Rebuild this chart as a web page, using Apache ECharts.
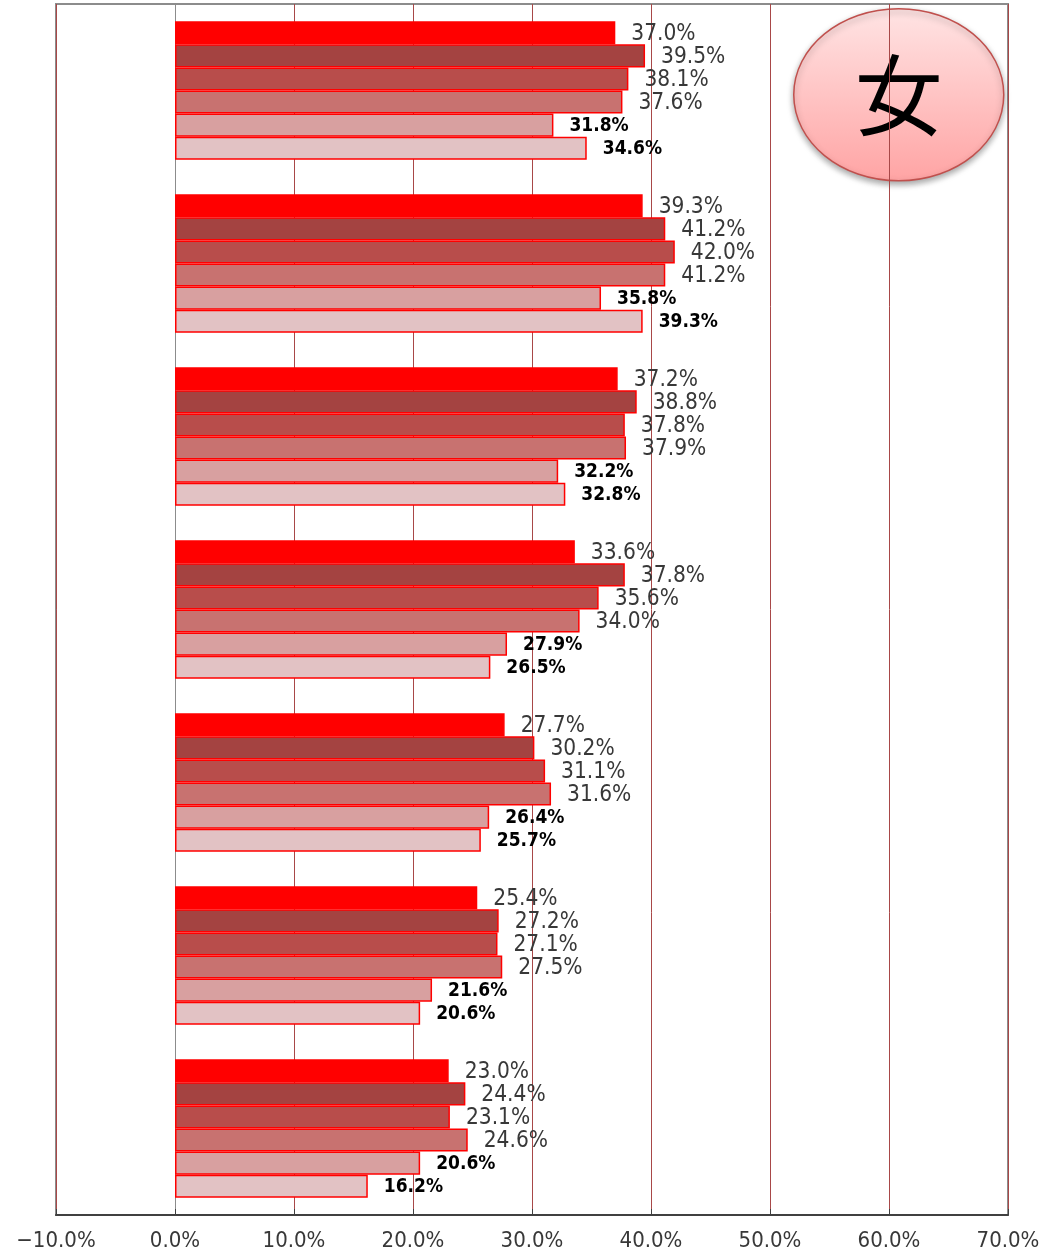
<!DOCTYPE html>
<html><head><meta charset="utf-8">
<script src="https://cdn.jsdelivr.net/npm/echarts@6/dist/echarts.min.js"></script>
<style>html,body{margin:0;padding:0;background:#fff}#c{width:1050px;height:1255px}</style>
</head><body><div id="c"></div>
<script>
const categories = ['1', '2', '3', '4', '5', '6', '7'];
const seriesNames = ['S1', 'S2', 'S3', 'S4', 'S5', 'S6'];
const s1 = [37.0, 39.3, 37.2, 33.6, 27.7, 25.4, 23.0];
const s2 = [39.5, 41.2, 38.8, 37.8, 30.2, 27.2, 24.4];
const s3 = [38.1, 42.0, 37.8, 35.6, 31.1, 27.1, 23.1];
const s4 = [37.6, 41.2, 37.9, 34.0, 31.6, 27.5, 24.6];
const s5 = [31.8, 35.8, 32.2, 27.9, 26.4, 21.6, 20.6];
const s6 = [34.6, 39.3, 32.8, 26.5, 25.7, 20.6, 16.2];
const xTicks = [-10, 0, 10, 20, 30, 40, 50, 60, 70];
const badgeText = '女';

const seriesData = [s1, s2, s3, s4, s5, s6];
const colors = ['#FF0000', '#A44341', '#B84D4B', '#C87270', '#D8A0A0', '#E2C2C4'];
const narrow = "'DejaVu Sans Condensed', 'Liberation Sans', sans-serif";

const chart = echarts.init(document.getElementById('c'));
chart.setOption({
  animation: false,
  grid: { left: 56, right: 42, top: 4, bottom: 40, show: true, borderColor: '#8C8C8C', borderWidth: 2, backgroundColor: 'transparent' },
  xAxis: {
    type: 'value', min: xTicks[0], max: xTicks[xTicks.length - 1], interval: 10,
    axisLine: { show: true, lineStyle: { color: '#404040', width: 2 } },
    axisTick: { show: true, inside: true, length: 6, lineStyle: { color: '#404040' } },
    splitLine: { show: true, lineStyle: { color: '#A84848', width: 1 } },
    axisLabel: { formatter: v => (v < 0 ? '\u2212' + Math.abs(v).toFixed(1) : v.toFixed(1)) + '%', fontFamily: narrow, fontSize: 22, color: '#383838', margin: 15 }
  },
  yAxis: {
    type: 'category', data: categories, inverse: true,
    axisLine: { show: true, onZero: true, lineStyle: { color: '#8C8C8C', width: 1 } },
    axisTick: { show: false }, axisLabel: { show: false }, splitLine: { show: false }
  },
  series: seriesData.map((d, i) => ({
    type: 'bar', name: seriesNames[i], data: d,
    barGap: '0%', barCategoryGap: '20%',
    itemStyle: { color: colors[i], borderColor: '#FF0000', borderWidth: 1.5 },
    label: {
      show: true, position: 'right', distance: 16, offset: [0, 1],
      formatter: p => p.value.toFixed(1) + '%',
      fontFamily: narrow,
      fontSize: i < 4 ? 22.5 : 19,
      fontWeight: i < 4 ? 'normal' : 'bold',
      color: i < 4 ? '#383838' : '#000'
    }
  })),
  graphic: [{
    type: 'group', left: 793, top: 8,
    children: [{
      type: 'ellipse', shape: { cx: 106, cy: 87, rx: 105, ry: 86 },
      style: {
        fill: new echarts.graphic.LinearGradient(0, 0, 0, 1, [{ offset: 0, color: '#FFE4E4' }, { offset: 1, color: '#FFA4A4' }]),
        stroke: '#C0504D', lineWidth: 1.5,
        shadowBlur: 6, shadowOffsetY: 3, shadowColor: 'rgba(0,0,0,0.35)'
      }
    }, {
      type: 'text', x: 106, y: 87,
      style: { text: badgeText, fontSize: 88, fontFamily: "'Noto Sans CJK JP', sans-serif", fill: '#000', align: 'center', verticalAlign: 'middle' }
    }]
  }]
});
</script></body></html>
